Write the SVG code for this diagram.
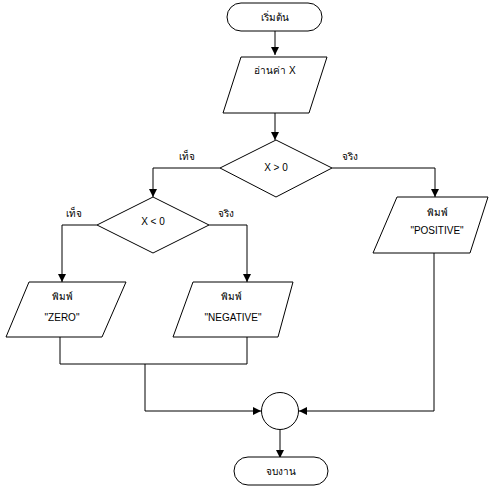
<svg xmlns="http://www.w3.org/2000/svg" width="499" height="486" viewBox="0 0 499 486">
<style>
.s{fill:#fff;stroke:#000;stroke-width:1}
.c{fill:none;stroke:#000;stroke-width:1}
text{font-family:"Liberation Sans","Noto Sans",sans-serif;font-size:10px;fill:#000;text-anchor:middle}
</style>
<defs>
<marker id="a" markerWidth="8" markerHeight="8" refX="8" refY="4" orient="auto" markerUnits="userSpaceOnUse">
<path d="M0,0 L8,4 L0,8 Z" fill="#000"/>
</marker>
</defs>
<rect width="499" height="486" fill="#fff"/>
<g id="connectors">
<path class="c" d="M275,31 V55" marker-end="url(#a)"/>
<path class="c" d="M275,113 V140" marker-end="url(#a)"/>
<path class="c" d="M220,168 H153 V197" marker-end="url(#a)"/>
<path class="c" d="M332,168 H435 V197" marker-end="url(#a)"/>
<path class="c" d="M97,225 H62 V282" marker-end="url(#a)"/>
<path class="c" d="M209,225 H247 V282" marker-end="url(#a)"/>
<path class="c" d="M60,337 V364 H247 V337"/>
<path class="c" d="M145,364 V411 H261" marker-end="url(#a)"/>
<path class="c" d="M434,253 V411 H299" marker-end="url(#a)"/>
<path class="c" d="M280,430 V458" marker-end="url(#a)"/>
<text x="187" y="160">เท็จ</text>
<text x="350" y="160">จริง</text>
<text x="74" y="217">เท็จ</text>
<text x="226" y="217">จริง</text>
</g>
<g id="start">
<rect class="s" x="227" y="3" width="95" height="28" rx="14"/>
<text x="275" y="21">เริ่มต้น</text>
</g>
<g id="read">
<polygon class="s" points="241,57 327,57 309,113 223,113"/>
<text x="275" y="74">อ่านค่า X</text>
</g>
<g id="cond1">
<polygon class="s" points="276,140 332,168 276,197 220,168"/>
<text x="276" y="171">X &gt; 0</text>
</g>
<g id="cond2">
<polygon class="s" points="153,197 209,225 153,253 97,225"/>
<text x="153" y="225">X &lt; 0</text>
</g>
<g id="zero">
<polygon class="s" points="29,282 126,282 102,337 6,337"/>
<text x="62" y="300">พิมพ์</text>
<text x="62" y="321">"ZERO"</text>
</g>
<g id="negative">
<polygon class="s" points="193,282 293,282 278,337 173,337"/>
<text x="231" y="300">พิมพ์</text>
<text x="233" y="321">"NEGATIVE"</text>
</g>
<g id="positive">
<polygon class="s" points="397,197 488,197 470,253 373,253"/>
<text x="437" y="216">พิมพ์</text>
<text x="437" y="234">"POSITIVE"</text>
</g>
<g id="join">
<circle class="s" cx="280" cy="411" r="18.5"/>
</g>
<g id="end">
<rect class="s" x="234" y="457" width="94" height="28" rx="14"/>
<text x="281" y="475">จบงาน</text>
</g>
</svg>
